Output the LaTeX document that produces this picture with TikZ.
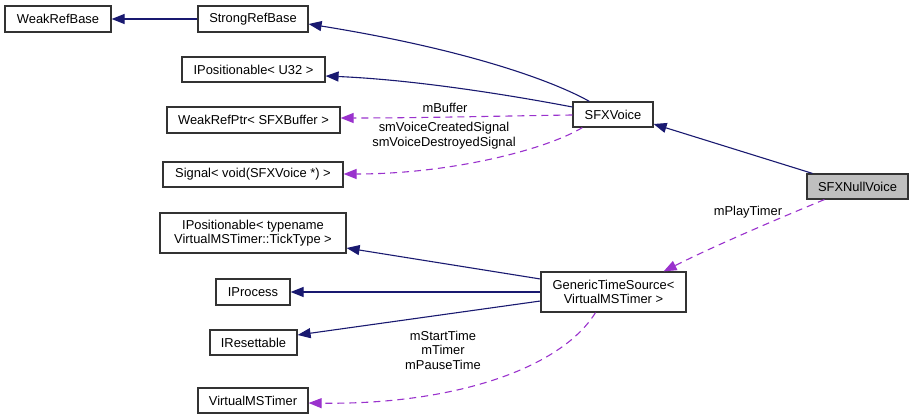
\documentclass[tikz,border=0pt]{standalone}
\usepackage{fontspec}
\setmainfont{Liberation Sans}
\usetikzlibrary{arrows.meta}
\definecolor{navy}{HTML}{191970}
\definecolor{purp}{HTML}{9A32CD}
\definecolor{nullgray}{HTML}{BFBFBF}
\tikzset{
  box/.style={draw=black!80, line width=1.2pt, fill=white, inner sep=0pt, align=center,
    font=\fontsize{12.9}{14.5}\selectfont},
  inh/.style={draw=navy, line width=1.1pt, -{Triangle[length=13pt,width=10pt]}},
  use/.style={draw=purp, line width=1.1pt, dash pattern=on 7pt off 5pt, -{Triangle[length=13pt,width=10pt]}},
  lbl/.style={inner sep=0pt, align=center, font=\fontsize{12.9}{14.5}\selectfont}
}
\begin{document}
\begin{tikzpicture}[x=1pt,y=-1pt]
\useasboundingbox (0,0) rectangle (913,419);
% nodes
\node[box, minimum width=106pt, minimum height=26pt] (weak) at (58,19) {WeakRefBase};
\node[box, minimum width=110pt, minimum height=26pt] (strong) at (253,19) {StrongRefBase};
\node[box, minimum width=143pt, minimum height=25pt] (ipos32) at (253.5,69.5) {IPositionable< U32 >};
\node[box, minimum width=173pt, minimum height=26pt] (wrp) at (253.5,120) {WeakRefPtr< SFXBuffer >};
\node[box, minimum width=180pt, minimum height=25pt] (sig) at (253,174.5) {Signal< void(SFXVoice *) >};
\node[box, minimum width=80pt, minimum height=25pt] (sfxv) at (613,114.5) {SFXVoice};
\node[box, fill=nullgray, minimum width=101pt, minimum height=25pt] (null) at (857.5,186.5) {SFXNullVoice};
\node[box, minimum width=186pt, minimum height=40pt] (ipostn) at (253,233) {IPositionable< typename\\ VirtualMSTimer::TickType >};
\node[box, minimum width=145pt, minimum height=40pt] (gts) at (613.5,292) {GenericTimeSource<\\ VirtualMSTimer >};
\node[box, minimum width=74pt, minimum height=26pt] (iproc) at (253,292) {IProcess};
\node[box, minimum width=87pt, minimum height=25pt] (ires) at (253.5,342.5) {IResettable};
\node[box, minimum width=110pt, minimum height=25pt] (vmt) at (253,400.5) {VirtualMSTimer};
% connector end points on the node borders
\coordinate (sfxvTop) at ([xshift=17pt]sfxv.north west);
\coordinate (sfxvBot) at ([xshift=10pt]sfxv.south west);
\coordinate (nullTop) at ([xshift=6pt]null.north west);
\coordinate (nullBot) at ([xshift=18pt]null.south west);
\coordinate (gtsTop) at ([xshift=-23pt]gts.north east);
\coordinate (gtsBot) at ([xshift=-18pt]gts.south);
% inheritance edges
\draw[inh] (strong.west) -- (weak.east);
\draw[inh] (sfxvTop) .. controls (555,82) and (470,50) .. (strong.east |- 0,24);
\draw[inh] (sfxv.west |- 0,107) .. controls (520,97) and (420,80) .. (ipos32.east |- 0,76);
\draw[inh] (nullTop) -- (sfxv.east |- 0,124);
\draw[inh] (gts.west |- 0,279) -- (ipostn.east |- 0,248);
\draw[inh] (gts.west) -- (iproc.east);
\draw[inh] (gts.west |- 0,301) -- (ires.east |- 0,335);
% usage edges
\draw[use] (sfxv.west |- 0,115) .. controls (500,116) and (420,118) .. (wrp.east |- 0,118);
\draw[use] (sfxvBot) .. controls (545,150) and (450,174) .. (sig.east |- 0,174);
\draw[use] (nullBot) .. controls (770,222) and (710,248) .. (gtsTop);
\draw[use] (gtsBot) .. controls (560,370) and (450,405) .. (vmt.east |- 0,403);
% labels
\node[lbl] (lbuf) at (445,108) {mBuffer};
\node[lbl] (lsig) at (444,135.5) {smVoiceCreatedSignal\\smVoiceDestroyedSignal};
\node[lbl] (lplay) at (748,212) {mPlayTimer};
\node[lbl] (ltim) at (443,350) {mStartTime\\mTimer\\mPauseTime};
\end{tikzpicture}
\end{document}
